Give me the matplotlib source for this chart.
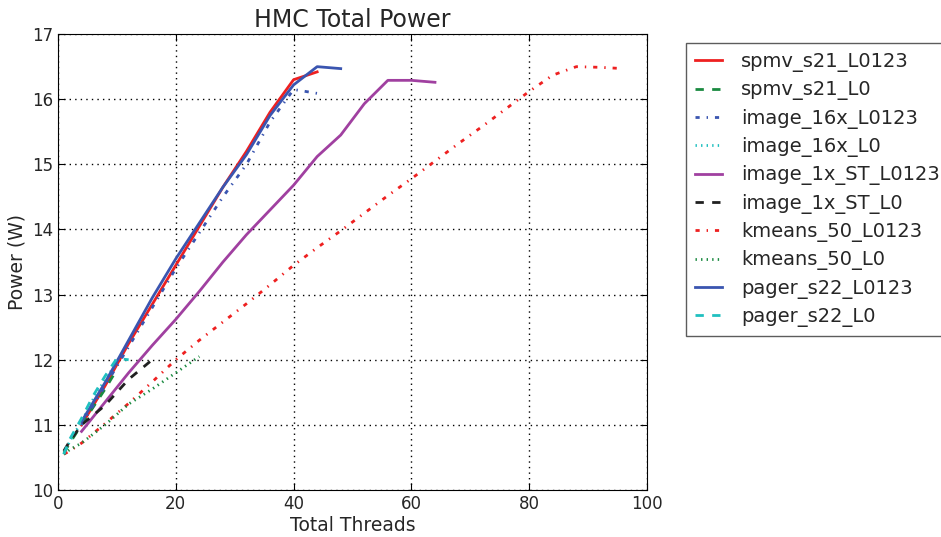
import matplotlib.pyplot as plt

plt.rcParams['font.family'] = ['DejaVu Sans']
plt.rcParams['xtick.direction'] = 'in'
plt.rcParams['ytick.direction'] = 'in'
# old-style dash patterns, not scaled by line width
plt.rcParams['lines.scale_dashes'] = False
plt.rcParams['lines.dashed_pattern'] = [6, 6]
plt.rcParams['lines.dashdot_pattern'] = [3, 5, 1, 5]
plt.rcParams['lines.dotted_pattern'] = [1, 3]
txt = '#262626'

# threads and power values
x_spmv_l0123 = [4, 8, 12, 16, 20, 24, 28, 32, 36, 40, 44]
spmv_l0123 = [11.0, 11.6, 12.25, 12.85, 13.45, 14.05, 14.65, 15.2, 15.8, 16.3, 16.42]

x_spmv_l0 = [1, 2, 4, 8, 10]
spmv_l0 = [10.57, 10.72, 11.0, 11.55, 11.85]

x_img16_l0123 = [4, 8, 12, 16, 20, 24, 28, 32, 36, 40, 44]
img16_l0123 = [11.0, 11.6, 12.2, 12.8, 13.4, 13.95, 14.5, 15.0, 15.65, 16.15, 16.09]

x_img16_l0 = [1, 2, 4, 6, 8, 10]
img16_l0 = [10.55, 10.75, 11.05, 11.4, 11.7, 11.95]

x_img1_l0123 = [4, 8, 12, 16, 20, 24, 28, 32, 36, 40, 44, 48, 52, 56, 60, 64]
img1_l0123 = [10.9, 11.35, 11.8, 12.22, 12.62, 13.05, 13.5, 13.92, 14.3, 14.68,
              15.12, 15.45, 15.93, 16.29, 16.29, 16.26]

x_img1_l0 = [1, 2, 4, 8, 12, 16]
img1_l0 = [10.6, 10.75, 11.0, 11.3, 11.7, 12.0]

x_kmeans_l0123 = [1, 2, 4, 8, 12, 16, 20, 24, 28, 32, 36, 40, 44, 48, 52, 56,
                  60, 64, 68, 72, 76, 80, 84, 88, 92, 96]
kmeans_l0123 = [10.55, 10.6, 10.72, 11.02, 11.33, 11.66, 12.0, 12.3, 12.58, 12.86,
                13.15, 13.45, 13.72, 13.98, 14.25, 14.52, 14.78, 15.05, 15.32,
                15.58, 15.85, 16.12, 16.37, 16.5, 16.49, 16.47]

x_kmeans_l0 = [1, 2, 4, 8, 12, 16, 20, 24]
kmeans_l0 = [10.55, 10.62, 10.72, 11.0, 11.32, 11.55, 11.8, 12.05]

x_pager_l0123 = [4, 8, 12, 16, 20, 24, 28, 32, 36, 40, 44, 48]
pager_l0123 = [11.05, 11.65, 12.3, 12.95, 13.55, 14.1, 14.65, 15.15, 15.75, 16.22, 16.5, 16.47]

x_pager_l0 = [1, 2, 4, 6, 8, 10, 12]
pager_l0 = [10.55, 10.78, 11.1, 11.45, 11.75, 12.02, 12.0]

fig = plt.figure(figsize=(9.41, 5.37), dpi=100)
ax = fig.add_axes([0.0616, 0.0875, 0.626, 0.849])

lw = 2
ax.plot(x_spmv_l0123, spmv_l0123, '-', color='#ee2020', lw=lw, label='spmv_s21_L0123')
ax.plot(x_spmv_l0, spmv_l0, '--', color='#1a8a40', lw=lw, label='spmv_s21_L0')
ax.plot(x_img16_l0123, img16_l0123, '-.', color='#3a55b0', lw=lw, label='image_16x_L0123')
ax.plot(x_img16_l0, img16_l0, ':', color='#20c0c0', lw=lw, label='image_16x_L0')
ax.plot(x_img1_l0123, img1_l0123, '-', color='#a040a0', lw=lw, label='image_1x_ST_L0123')
ax.plot(x_img1_l0, img1_l0, '--', color='#202020', lw=lw, label='image_1x_ST_L0')
ax.plot(x_kmeans_l0123, kmeans_l0123, '-.', color='#ee2020', lw=lw, label='kmeans_50_L0123')
ax.plot(x_kmeans_l0, kmeans_l0, ':', color='#1a8a40', lw=lw, label='kmeans_50_L0')
ax.plot(x_pager_l0123, pager_l0123, '-', color='#3a55b0', lw=lw, label='pager_s22_L0123')
ax.plot(x_pager_l0, pager_l0, '--', color='#20c0c0', lw=lw, label='pager_s22_L0')

ax.set_xlim(0, 100)
ax.set_ylim(10, 17)
ax.tick_params(top=True, right=True, labelsize=12, length=5, labelcolor=txt)
ax.grid(True, color='black', linestyle=':', linewidth=1)
ax.set_title('HMC Total Power', fontsize=17, pad=5, color=txt)
ax.set_xlabel('Total Threads', fontsize=13.5, labelpad=2, color=txt)
ax.set_ylabel('Power (W)', fontsize=13.5, color=txt)

leg = ax.legend(loc='upper left', bbox_to_anchor=(1.066, 0.98), fontsize=14,
                fancybox=False, edgecolor='#333333', handlelength=1.4,
                handletextpad=1.0, labelspacing=0.43, borderpad=0.45,
                borderaxespad=0)
leg.get_frame().set_linewidth(1)
for t in leg.get_texts():
    t.set_color(txt)

fig.savefig('out.png', dpi=100)
